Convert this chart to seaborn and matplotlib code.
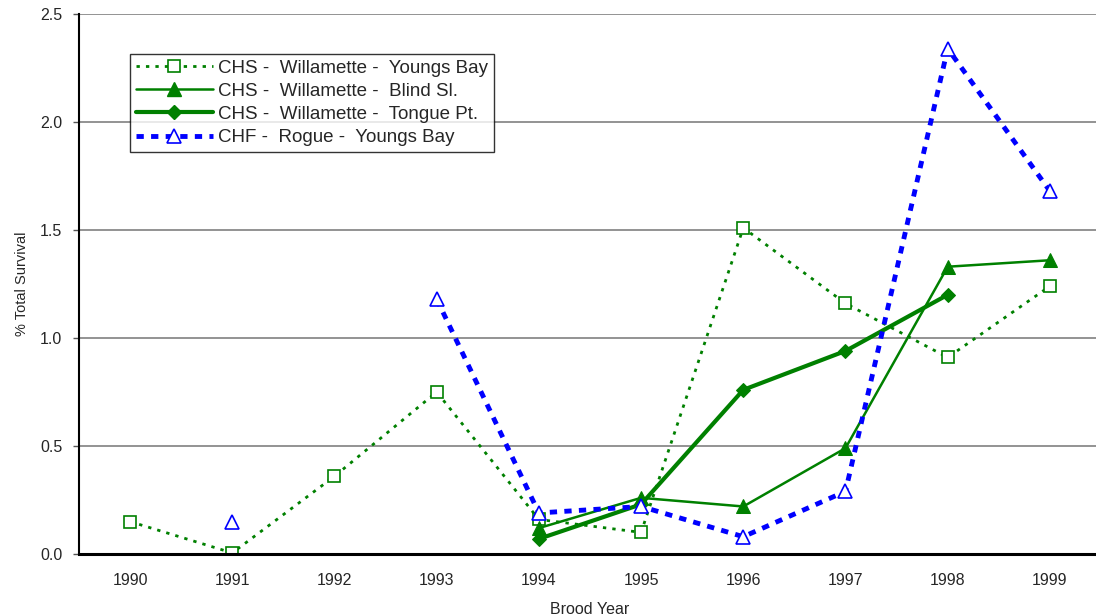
import numpy as np
import pandas as pd
import matplotlib
matplotlib.use("Agg")
import matplotlib.pyplot as plt
from matplotlib.lines import Line2D
import seaborn as sns

#================================
# DATA
#================================
years = [1990, 1991, 1992, 1993, 1994, 1995, 1996, 1997, 1998, 1999]
youngs_bay = [0.15, 0.005, 0.36, 0.75, 0.16, 0.10, 1.51, 1.16, 0.91, 1.24]
blind_sl = [np.nan, np.nan, np.nan, np.nan, 0.12, 0.26, 0.22, 0.49, 1.33, 1.36]
tongue_pt = [np.nan, np.nan, np.nan, np.nan, 0.07, 0.23, 0.76, 0.94, 1.20, np.nan]
rogue_yb = [np.nan, 0.15, np.nan, 1.18, 0.19, 0.22, 0.08, 0.29, 2.34, 1.68]

labels = [
    "CHS -  Willamette -  Youngs Bay",
    "CHS -  Willamette -  Blind Sl.",
    "CHS -  Willamette -  Tongue Pt.",
    "CHF -  Rogue -  Youngs Bay",
]

GREEN = "#008000"
BLUE = "#0000ff"

styles = [
    dict(color=GREEN, linestyle=(0, (1.2, 2.2)), linewidth=2.0, marker="s",
         markersize=9, markerfacecolor="white", markeredgecolor=GREEN, markeredgewidth=1.2),
    dict(color=GREEN, linestyle="-", linewidth=1.8, marker="^",
         markersize=10, markerfacecolor=GREEN, markeredgecolor=GREEN),
    dict(color=GREEN, linestyle="-", linewidth=3.0, marker="D",
         markersize=7, markerfacecolor=GREEN, markeredgecolor=GREEN),
    dict(color=BLUE, linestyle=(0, (1.5, 1.5)), linewidth=3.5, marker="^",
         markersize=10, markerfacecolor="white", markeredgecolor=BLUE, markeredgewidth=1.2),
]

sns.set_style("white")
plt.rcParams["font.family"] = ["Liberation Sans", "DejaVu Sans"]

fig = plt.figure(figsize=(10.96, 6.16), dpi=100)
ax = fig.add_axes([79 / 1096, 62 / 616, 1022 / 1096, 540 / 616])


def draw_series(ax, values, style):
    # draw each unbroken run separately so gaps stay gaps
    df = pd.DataFrame({"year": years, "val": values})
    run = df["val"].isna().cumsum()
    for _, seg in df.dropna().groupby(run[df["val"].notna()]):
        sns.lineplot(data=seg, x="year", y="val", ax=ax, legend=False,
                     sort=False, estimator=None, **style)


for vals, st in zip([youngs_bay, blind_sl, tongue_pt, rogue_yb], styles):
    draw_series(ax, vals, st)

# gridlines
for yv in [0.5, 1.0, 1.5, 2.0, 2.5]:
    ax.axhline(yv, color="#808080", linewidth=1.2, zorder=0)

ax.set_xlim(1989.5, 1999.5)
ax.set_ylim(0, 2.5)
ax.set_xticks(years)
ax.set_xticklabels([str(y) for y in years], fontsize=11.5)
ax.set_xticks(np.arange(1990.5, 1999.5, 1), minor=True)
ax.tick_params(axis="x", which="major", length=0, pad=14)
ax.tick_params(axis="x", which="minor", length=5, width=1, color="#555555", direction="out")
ax.set_yticks([0.0, 0.5, 1.0, 1.5, 2.0, 2.5])
ax.set_yticklabels(["0.0", "0.5", "1.0", "1.5", "2.0", "2.5"], fontsize=11.5)
ax.tick_params(axis="y", length=4, width=1, color="#555555", direction="out", left=True, pad=8)

for s in ["top", "right"]:
    ax.spines[s].set_visible(False)
ax.spines["left"].set_color("black")
ax.spines["left"].set_linewidth(1.5)
ax.spines["bottom"].set_color("black")
ax.spines["bottom"].set_linewidth(2.2)

ax.set_xlabel("Brood Year", fontsize=11.5, labelpad=10)
ax.set_ylabel("% Total Survival", fontsize=10.5, labelpad=8)

handles = [Line2D([0], [0], **st) for st in styles]
leg = ax.legend(handles, labels, loc="upper left", bbox_to_anchor=(0.05, 0.926),
                fontsize=13.5, frameon=True, fancybox=False, shadow=False,
                borderpad=0.3, labelspacing=0.32, handlelength=4.1, handletextpad=0.3,
                borderaxespad=0)
leg.get_frame().set_edgecolor("black")
leg.get_frame().set_linewidth(1.0)

plt.savefig("out.png", dpi=100)
plt.close()
